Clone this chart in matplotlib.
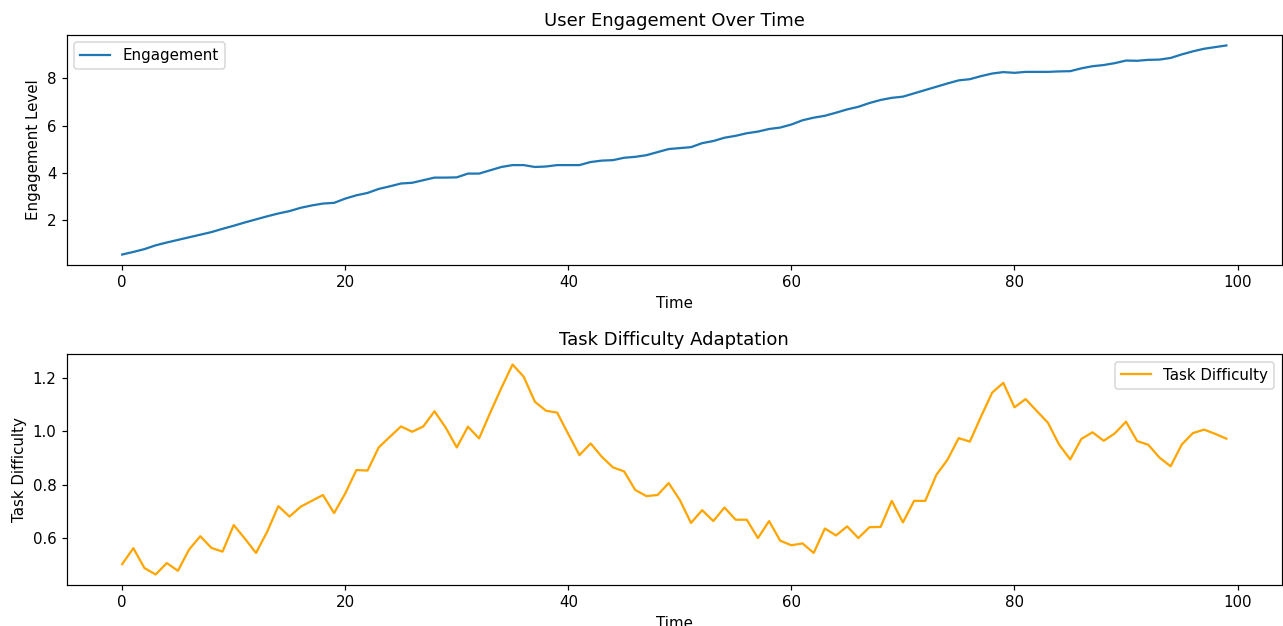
import numpy as np
import matplotlib
matplotlib.use("Agg")
import matplotlib.pyplot as plt

# Values
time = np.arange(100)

engagement = [
    0.54, 0.65, 0.77, 0.93, 1.05, 1.16, 1.27, 1.38, 1.49, 1.63,
    1.76, 1.90, 2.03, 2.16, 2.28, 2.38, 2.52, 2.62, 2.70, 2.73,
    2.91, 3.05, 3.15, 3.32, 3.43, 3.55, 3.58, 3.69, 3.80, 3.80,
    3.81, 3.97, 3.97, 4.11, 4.25, 4.33, 4.33, 4.25, 4.27, 4.33,
    4.33, 4.33, 4.46, 4.52, 4.54, 4.64, 4.68, 4.75, 4.88, 5.01,
    5.05, 5.09, 5.26, 5.35, 5.49, 5.57, 5.68, 5.75, 5.86, 5.92,
    6.05, 6.23, 6.34, 6.42, 6.55, 6.69, 6.80, 6.96, 7.09, 7.18,
    7.23, 7.37, 7.51, 7.65, 7.79, 7.92, 7.97, 8.10, 8.21, 8.27,
    8.24, 8.28, 8.28, 8.28, 8.30, 8.31, 8.43, 8.52, 8.57, 8.65,
    8.76, 8.75, 8.79, 8.80, 8.87, 9.02, 9.15, 9.26, 9.33, 9.40,
]

task_difficulty = [
    0.501, 0.561, 0.486, 0.462, 0.505, 0.476, 0.556, 0.606, 0.562, 0.548,
    0.648, 0.597, 0.543, 0.623, 0.719, 0.680, 0.717, 0.739, 0.761, 0.693,
    0.767, 0.855, 0.853, 0.940, 0.980, 1.019, 0.999, 1.019, 1.076, 1.015,
    0.940, 1.018, 0.974, 1.071, 1.164, 1.252, 1.206, 1.112, 1.078, 1.071,
    0.990, 0.911, 0.955, 0.905, 0.865, 0.850, 0.780, 0.757, 0.761, 0.806,
    0.742, 0.656, 0.704, 0.663, 0.714, 0.668, 0.668, 0.599, 0.663, 0.589,
    0.572, 0.579, 0.543, 0.635, 0.609, 0.643, 0.599, 0.640, 0.641, 0.739,
    0.658, 0.739, 0.739, 0.837, 0.894, 0.975, 0.962, 1.056, 1.146, 1.183,
    1.091, 1.122, 1.077, 1.033, 0.951, 0.895, 0.972, 0.997, 0.965, 0.993,
    1.037, 0.964, 0.950, 0.902, 0.869, 0.951, 0.994, 1.007, 0.991, 0.973,
]

# reference is rendered slightly larger than 100 dpi
DPI = 108
fig = plt.figure(figsize=(1283 / DPI, 626 / DPI), dpi=DPI)
ax1 = fig.add_axes([0.0522, 0.5767, 0.9467, 0.3674])
ax2 = fig.add_axes([0.0522, 0.0655, 0.9467, 0.3690])

# Engagement
ax1.plot(time, engagement, label='Engagement')
ax1.set_title('User Engagement Over Time')
ax1.set_xlabel('Time')
ax1.set_ylabel('Engagement Level')
ax1.legend(loc='upper left')

# Task difficulty
ax2.plot(time, task_difficulty, label='Task Difficulty', color='orange')
ax2.set_title('Task Difficulty Adaptation')
ax2.set_xlabel('Time')
ax2.set_ylabel('Task Difficulty')
ax2.legend(loc='upper right')

fig.savefig('out.png', dpi=DPI)
